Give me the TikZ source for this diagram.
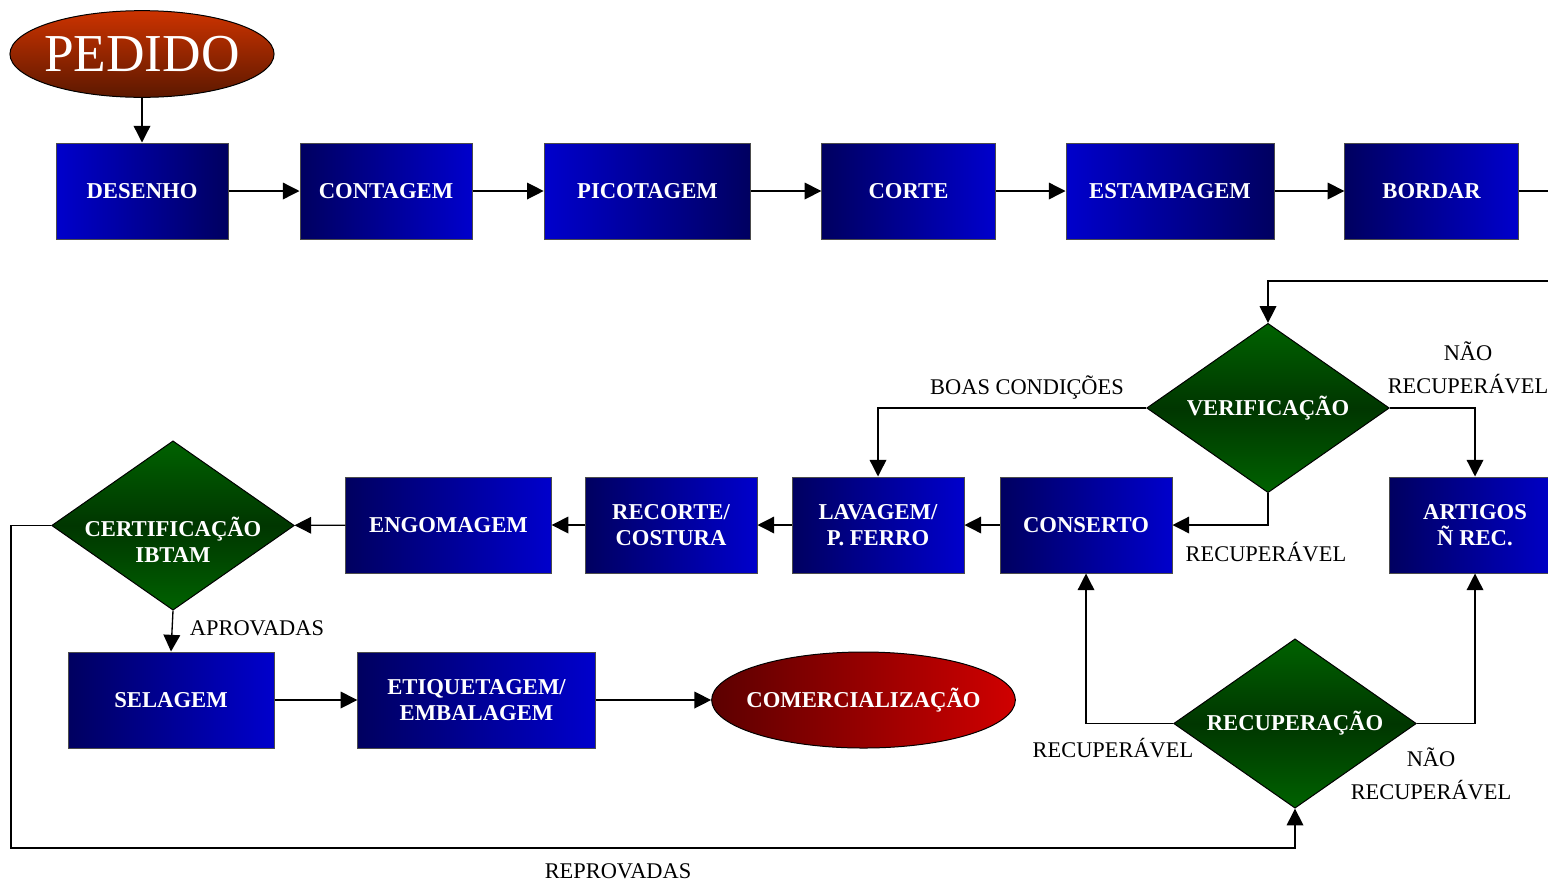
\documentclass[tikz,border=0pt]{standalone}
\usepackage{fontspec}
\setmainfont{Liberation Serif}
\usetikzlibrary{shapes.geometric,arrows.meta}

\definecolor{azulclaro}{RGB}{0,0,204}
\definecolor{azulescuro}{RGB}{0,0,96}
\definecolor{verdeclaro}{RGB}{0,98,0}
\definecolor{verdeescuro}{RGB}{0,54,0}
\definecolor{laranja}{RGB}{204,51,0}
\definecolor{marrom}{RGB}{92,24,0}
\definecolor{vinho}{RGB}{92,0,0}
\definecolor{vermelho}{RGB}{208,0,0}

\tikzset{every picture/.style={line width=1pt}}
\tikzset{
  etapa/.style={rectangle, draw=black!70, line width=0.75pt, minimum height=72pt, inner sep=0pt,
    text=white, align=center, font=\fontsize{17}{19.5}\selectfont\bfseries},
  claroesq/.style={etapa, left color=azulclaro, right color=azulescuro},
  escuroesq/.style={etapa, left color=azulescuro, right color=azulclaro},
  decisao/.style={diamond, draw=black, line width=0.75pt, minimum width=182pt, minimum height=127pt,
    aspect=1.43, inner sep=0pt, top color=verdeclaro, bottom color=verdeclaro, middle color=verdeescuro,
    text=white, align=center, font=\fontsize{17}{19.5}\selectfont\bfseries},
  terminal/.style={ellipse, draw=black, line width=0.75pt, inner ysep=0pt, text=white},
  rotulo/.style={inner sep=0pt, align=center, font=\fontsize{16.8}{24.75}\selectfont},
  seta/.style={-{Triangle[length=12.5pt,width=12.5pt]}}
}

\begin{document}
\begin{tikzpicture}[x=0.75pt,y=0.75pt,yscale=-1,xscale=1]
\useasboundingbox (0,0) rectangle (1548,883);

%Shape: Ellipse [id:pedido]
\node [terminal, inner xsep=-3.3pt, minimum height=65pt, top color=laranja, bottom color=marrom,
  font=\fontsize{40}{40}\selectfont] (pedido) at (142,54) {PEDIDO};

%Shape: Rectangle -- linha de cima
\node [claroesq, minimum width=129pt] (desenho) at (142,191) {DESENHO};
\node [escuroesq, minimum width=129pt] (contagem) at (386,191) {CONTAGEM};
\node [claroesq, minimum width=155pt] (picotagem) at (647.5,191) {PICOTAGEM};
\node [escuroesq, minimum width=130pt] (corte) at (908.5,191) {CORTE};
\node [claroesq, minimum width=156pt] (estampagem) at (1170,191) {ESTAMPAGEM};
\node [escuroesq, minimum width=130pt] (bordar) at (1431.5,191) {BORDAR};

%Shape: Diamond -- verificacao
\node [decisao] (verif) at (1268,408) {VERIFICAÇÃO};

%Shape: Rectangle -- linha do meio
\node [escuroesq, minimum width=129pt] (artigos) at (1475,525) {ARTIGOS\\Ñ REC.};
\node [escuroesq, minimum width=129pt] (conserto) at (1086,525) {CONSERTO};
\node [escuroesq, minimum width=129pt] (lavagem) at (878,525) {LAVAGEM/\\P. FERRO};
\node [escuroesq, minimum width=129pt] (recorte) at (671,525) {RECORTE/\\COSTURA};
\node [escuroesq, minimum width=154pt] (engomagem) at (448.5,525) {ENGOMAGEM};

%Shape: Diamond -- certificacao (texto um pouco abaixo do centro)
\node [decisao] (certif) at (173,525.5)
  {\raisebox{-18pt}[0pt][0pt]{\begin{tabular}{@{}c@{}}CERTIFICAÇÃO\\IBTAM\end{tabular}}};

%Shape: Rectangle -- linha de baixo
\node [escuroesq, minimum width=154.5pt] (selagem) at (171,700) {SELAGEM};
\node [escuroesq, minimum width=178pt] (etiquetagem) at (476.5,700) {ETIQUETAGEM/\\EMBALAGEM};

%Shape: Ellipse [id:comercializacao]
\node [terminal, inner xsep=-7.3pt, minimum height=72pt, left color=vinho, right color=vermelho,
  font=\fontsize{17}{19.5}\selectfont\bfseries] (comerc) at (863.5,700) {COMERCIALIZAÇÃO};

%Shape: Diamond -- recuperacao
\node [decisao] (recup) at (1295,723.5) {RECUPERAÇÃO};

%Straight Lines -- fluxo de cima
\draw [seta] (pedido) -- (desenho);
\draw [seta] (desenho) -- (contagem);
\draw [seta] (contagem) -- (picotagem);
\draw [seta] (picotagem) -- (corte);
\draw [seta] (corte) -- (estampagem);
\draw [seta] (estampagem) -- (bordar);
\coordinate (volta) at (1268,281);
\draw [seta] (bordar.east) -- ++(45,0) |- (volta) -- (verif.north);

%Straight Lines -- verificacao
\draw [seta] (verif.west) -| (lavagem.north);
\draw [seta] (verif.east) -| (artigos.north);
\draw [seta] (verif.south) |- (conserto.east);

%Straight Lines -- fluxo do meio
\draw [seta] (conserto) -- (lavagem);
\draw [seta] (lavagem) -- (recorte);
\draw [seta] (recorte) -- (engomagem);
\draw [seta] (engomagem) -- (certif);

%Straight Lines -- certificacao
\draw [seta] (certif.south) -- (selagem.north);
\coordinate (reprov) at (11,848);
\draw [seta] (certif.west) -| (reprov) -| (recup.south);

%Straight Lines -- fluxo de baixo
\draw [seta] (selagem) -- (etiquetagem);
\draw [seta] (etiquetagem) -- (comerc);

%Straight Lines -- recuperacao
\draw [seta] (recup.west) -| (conserto.south);
\draw [seta] (recup.east) -| (artigos.south);

% Text Node
\node [rotulo] (boas) at (1027,387) {BOAS CONDIÇÕES};
% Text Node
\node [rotulo] (naorec1) at (1468,368) {NÃO\\RECUPERÁVEL};
% Text Node
\node [rotulo] (rec1) at (1266,552) {RECUPERÁVEL};
% Text Node
\node [rotulo] (aprov) at (257,628) {APROVADAS};
% Text Node
\node [rotulo] (rec2) at (1113,748) {RECUPERÁVEL};
% Text Node
\node [rotulo] (naorec2) at (1431,774) {NÃO\\RECUPERÁVEL};
% Text Node
\node [rotulo] (reprovadas) at (618,871) {REPROVADAS};

\end{tikzpicture}
\end{document}
